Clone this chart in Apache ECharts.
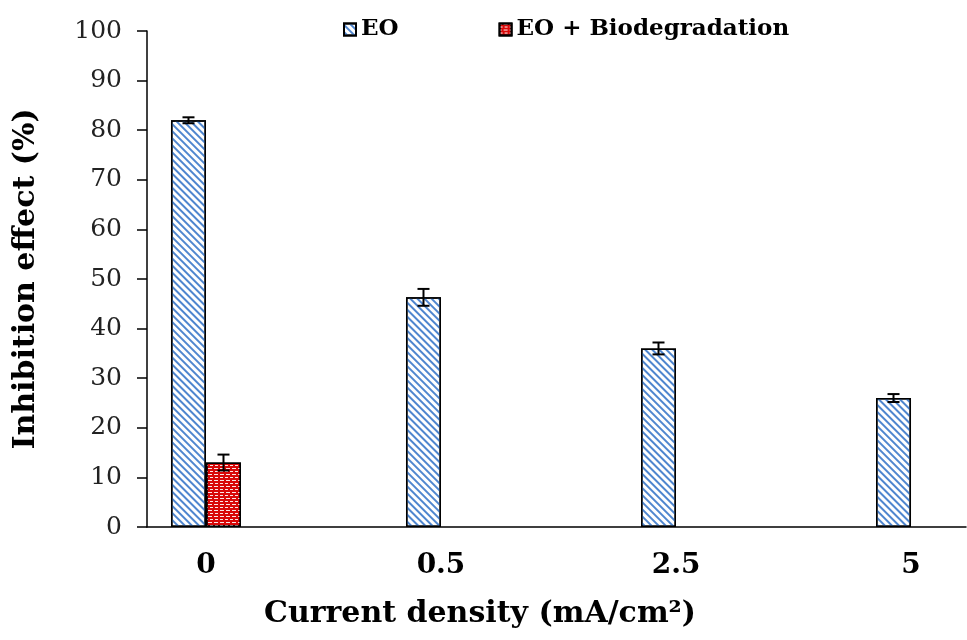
<!DOCTYPE html>
<html>
<head>
<meta charset="utf-8">
<script src="https://cdn.jsdelivr.net/npm/echarts@6/dist/echarts.min.js"></script>
<style>html,body{margin:0;padding:0;background:#fff;}#c{width:967px;height:640px;}</style>
</head>
<body>
<div id="c"></div>
<script>
const categories = ['0', '0.5', '2.5', '5'];
const eoValues = [82.0, 46.3, 36.0, 26.0];
const eoErrors = [0.6, 1.7, 1.2, 0.8];
const bioValues = [13.0, null, null, null];
const bioErrors = [1.6, null, null, null];
const yTicks = [0, 10, 20, 30, 40, 50, 60, 70, 80, 90, 100];

const FONT = 'DejaVu Serif';
const BAR_W = 35;

const chart = echarts.init(document.getElementById('c'));

function pts(vals) {
  const out = [];
  vals.forEach((v, i) => { if (v !== null) out.push([i, v]); });
  return out;
}
function errPts(vals, errs) {
  const out = [];
  vals.forEach((v, i) => { if (v !== null) out.push([i, v, errs[i]]); });
  return out;
}
function errRender(shift) {
  return function (params, api) {
    const x = api.value(0), v = api.value(1), e = api.value(2);
    const top = api.coord([x, v + e]);
    const bot = api.coord([x, v - e]);
    const cx = top[0] + shift;
    const cap = 6;
    const st = { stroke: '#000', lineWidth: 2 };
    return {
      type: 'group',
      children: [
        { type: 'line', shape: { x1: cx, y1: top[1], x2: cx, y2: bot[1] }, style: st },
        { type: 'line', shape: { x1: cx - cap, y1: top[1], x2: cx + cap, y2: top[1] }, style: st },
        { type: 'line', shape: { x1: cx - cap, y1: bot[1], x2: cx + cap, y2: bot[1] }, style: st }
      ]
    };
  };
}

const eoDecal = {
  symbol: 'rect', symbolSize: 1, color: '#4f86cf',
  dashArrayX: [1, 0], dashArrayY: [2, 2.6], rotation: Math.PI / 4
};
const bioDecal = {
  symbol: 'rect', symbolSize: 1, color: 'rgba(255,255,255,0.9)',
  dashArrayX: [[3, 2], [1.5, 2, 1.5, 0]], dashArrayY: [1, 2], rotation: 0
};

chart.setOption({
  animation: false,
  aria: { enabled: true, decal: { show: true } },
  backgroundColor: '#fff',
  grid: { left: 147, right: 1, top: 31, bottom: 113, containLabel: false, outerBoundsMode: 'none' },
  legend: {
    top: 13, left: 338, itemWidth: 12, itemHeight: 12, itemGap: 100,
    icon: 'rect',
    textStyle: { fontFamily: FONT, fontWeight: 'bold', fontSize: 23, color: '#000' },
    data: ['EO', 'EO + Biodegradation']
  },
  title: [
    {
      text: 'Current density (mA/cm\u00B2)', left: 475, top: 594, textAlign: 'center',
      textStyle: { fontFamily: FONT, fontWeight: 'bold', fontSize: 30, color: '#000' }
    }
  ],
  xAxis: {
    type: 'value', min: -0.251, max: 3.234,
    axisLine: { show: true, onZero: false, lineStyle: { color: '#000', width: 1.5 } },
    axisTick: { show: false },
    splitLine: { show: false },
    axisLabel: {
      customValues: [0, 1, 2, 3],
      formatter: v => categories[Math.round(v)],
      fontFamily: FONT, fontWeight: 'bold', fontSize: 28, color: '#000', margin: 25
    }
  },
  yAxis: {
    type: 'value', min: 0, max: 100, interval: 10,
    name: 'Inhibition effect (%)', nameLocation: 'middle', nameGap: 106,
    nameTextStyle: { fontFamily: FONT, fontWeight: 'bold', fontSize: 30, color: '#000' },
    axisLine: { show: true, onZero: false, lineStyle: { color: '#000', width: 1.5 } },
    axisTick: { show: true, length: 10, lineStyle: { color: '#000', width: 1.5 } },
    splitLine: { show: false },
    axisLabel: {
      customValues: yTicks,
      fontFamily: FONT, fontSize: 25, color: '#222', margin: 25
    }
  },
  series: [
    {
      name: 'EO', type: 'bar', barWidth: BAR_W, barGap: '0%',
      data: pts(eoValues),
      itemStyle: { color: '#ffffff', borderColor: '#000', borderWidth: 1.5, decal: eoDecal }
    },
    {
      name: 'EO + Biodegradation', type: 'bar', barWidth: BAR_W, barGap: '0%',
      data: pts(bioValues),
      itemStyle: { color: '#d80808', borderColor: '#000', borderWidth: 1.5, decal: bioDecal }
    },
    {
      type: 'custom', renderItem: errRender(-BAR_W / 2), data: errPts(eoValues, eoErrors), z: 10, silent: true
    },
    {
      type: 'custom', renderItem: errRender(BAR_W / 2), data: errPts(bioValues, bioErrors), z: 10, silent: true
    }
  ]
});
</script>
</body>
</html>
